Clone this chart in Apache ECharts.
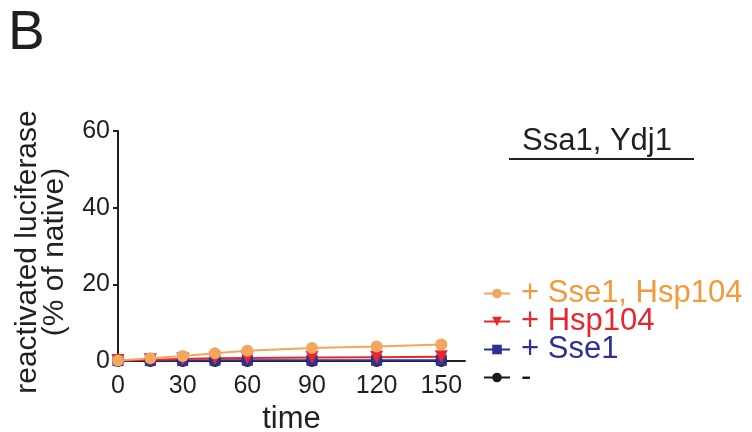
<!DOCTYPE html>
<html>
<head>
<meta charset="utf-8">
<script src="https://cdn.jsdelivr.net/npm/echarts@6/dist/echarts.min.js"></script>
<style>html,body{margin:0;padding:0;background:#fff}#c{width:752px;height:432px}</style>
</head>
<body>
<div id="c"></div>
<script>
const times = [0, 15, 30, 45, 60, 90, 120, 150];
const xTicks = [0, 30, 60, 90, 120, 150];
const yTicks = [0, 20, 40, 60];
const seriesNames = ['+ Sse1, Hsp104', '+ Hsp104', '+ Sse1', '-'];
const sse1Hsp104 = [0.1, 0.7, 1.3, 2.0, 2.7, 3.4, 3.8, 4.3];
const hsp104 = [0.1, 0.3, 0.5, 0.7, 0.8, 0.9, 1.0, 1.1];
const sse1 = [0.1, 0.1, 0.1, 0.2, 0.2, 0.2, 0.2, 0.2];
const none = [0, 0, 0, 0, 0, 0, 0, 0];
const panelLabel = 'B';
const conditionTitle = 'Ssa1, Ydj1';
const xName = 'time';
const yName = 'reactivated luciferase\n(% of native)';

const FONT = '"Liberation Sans", Arial, Helvetica, sans-serif';
const colors = {
  orange: '#F3A65E', red: '#E8262D', blue: '#2E3192', black: '#1a1a1a'
};
const textColors = {
  orange: '#F39A3A', red: '#E8262D', blue: '#2E3192', black: '#1a1a1a'
};
const zip = arr => times.map((t, i) => [t, arr[i]]);

const chart = echarts.init(document.getElementById('c'), null, {renderer: 'canvas'});
const mk = (name, data, color, symbol, size, rotate) => ({
  name, type: 'line', data: zip(data), symbol, symbolSize: size, symbolRotate: rotate || 0,
  lineStyle: {color, width: 2}, itemStyle: {color}, showSymbol: true, animation: false,
  emphasis: {disabled: true}
});
chart.setOption({
  animation: false,
  textStyle: {fontFamily: FONT},
  grid: {left: 118, right: 287, top: 131, bottom: 71, containLabel: false, outerBoundsMode: 'none'},
  title: [
    {text: panelLabel, left: 3, top: 1, textStyle: {fontFamily: FONT, fontSize: 55, fontWeight: 'normal', color: '#231f20'}},
    {text: conditionTitle, left: 522, top: 126, textStyle: {fontFamily: FONT, fontSize: 31, fontWeight: 'normal', color: '#231f20'}, padding: 0}
  ],
  graphic: [
    {type: 'line', shape: {x1: 509, y1: 159, x2: 694, y2: 159}, style: {stroke: '#231f20', lineWidth: 2}}
  ],
  legend: {
    orient: 'vertical', left: 483, top: 278, padding: 0, itemWidth: 26, itemHeight: 12, itemGap: -3,
    textStyle: {fontFamily: FONT, fontSize: 31, lineHeight: 26, padding: [0, 0, 0, 6]},
    data: [
      {name: seriesNames[0], textStyle: {color: textColors.orange}},
      {name: seriesNames[1], textStyle: {color: textColors.red}},
      {name: seriesNames[2], textStyle: {color: textColors.blue}},
      {name: seriesNames[3], textStyle: {color: textColors.black}}
    ],
    selectedMode: false
  },
  xAxis: {
    type: 'value', min: 0, max: 161, interval: 30,
    name: xName, nameLocation: 'middle', nameGap: 34,
    nameTextStyle: {fontFamily: FONT, fontSize: 31, color: '#231f20'},
    axisLine: {lineStyle: {color: '#231f20', width: 2}},
    axisTick: {show: true, length: 5, lineStyle: {color: '#231f20', width: 2}, customValues: xTicks},
    axisLabel: {fontFamily: FONT, fontSize: 25, color: '#231f20', margin: 13, customValues: xTicks},
    splitLine: {show: false}
  },
  yAxis: {
    type: 'value', min: 0, max: 60, interval: 20,
    name: yName, nameLocation: 'middle', nameGap: 50, nameRotate: 90,
    nameTextStyle: {fontFamily: FONT, fontSize: 30, lineHeight: 27, color: '#231f20', align: 'center', padding: [0, 12, 0, 0]},
    axisLine: {show: true, lineStyle: {color: '#231f20', width: 2}},
    axisTick: {show: true, length: 5, lineStyle: {color: '#231f20', width: 2}, customValues: yTicks},
    axisLabel: {fontFamily: FONT, fontSize: 25, color: '#231f20', margin: 8, customValues: yTicks},
    splitLine: {show: false}
  },
  series: [
    mk(seriesNames[3], none, colors.black, 'circle', 12),
    mk(seriesNames[2], sse1, colors.blue, 'rect', 11),
    mk(seriesNames[1], hsp104, colors.red, 'triangle', 13, 180),
    mk(seriesNames[0], sse1Hsp104, colors.orange, 'circle', 12)
  ]
});
</script>
</body>
</html>
